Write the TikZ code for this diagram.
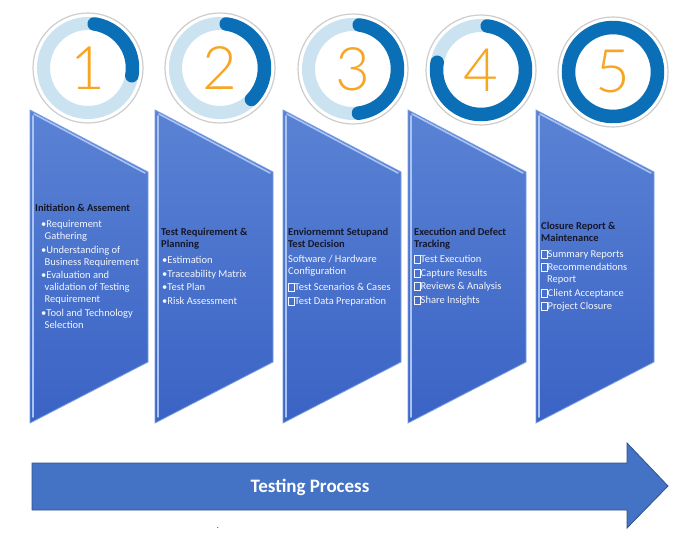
\documentclass[tikz,border=0pt]{standalone}
\usepackage{fontspec}
\setmainfont{Carlito}
\IfFontExistsTF{Lato Light}{\newfontfamily\digitfont{Lato Light}}{\newfontfamily\digitfont{Lato}}
\usetikzlibrary{positioning}
\definecolor{panelTop}{HTML}{5A82D4}
\definecolor{panelBot}{HTML}{3A63C5}
\definecolor{panelEdge}{HTML}{7A9EE4}
\definecolor{panelHi}{HTML}{A9C3F3}
\definecolor{ringLight}{HTML}{CBE3F1}
\definecolor{ringDark}{HTML}{0A6FB6}
\definecolor{rimGrey}{HTML}{CDCDCD}
\definecolor{digitOrange}{HTML}{F7A623}
\definecolor{titleDark}{HTML}{17172A}
\definecolor{itemWhite}{HTML}{F4F6FB}
\definecolor{arrowBlue}{HTML}{4472C4}
\definecolor{arrowEdge}{HTML}{2F528F}
\newcommand\phasettl[1]{\textcolor{titleDark}{\bfseries #1}}
\newcommand\nobox{\textcolor{itemWhite}{\fboxsep0pt\fboxrule0.5pt\fbox{\rule{0pt}{6.8pt}\hspace{5.5pt}}}}
\tikzset{
  panel/.style   = {top color=panelTop, bottom color=panelBot, draw=panelEdge, line width=0.8pt},
  bevel/.style   = {panelHi, line width=1.6pt, line cap=round},
  rim/.style     = {draw=rimGrey, line width=1.2pt, fill=white},
  ringbg/.style  = {ringLight, line width=13pt},
  ringfg/.style  = {ringDark, line width=13.5pt, line cap=round},
  digit/.style   = {font=\digitfont\fontsize{60}{60}\selectfont, text=digitOrange, inner sep=0pt},
  steptxt/.style = {font=\fontsize{10.5}{12}\selectfont, text=itemWhite, align=left,
                    anchor=north west, inner sep=0pt},
  flow/.style    = {fill=arrowBlue, draw=arrowEdge, line width=0.8pt},
  flowtxt/.style = {font=\bfseries\fontsize{19}{19}\selectfont, text=white},
}
\begin{document}
\begin{tikzpicture}[x=1pt, y=-1pt]
\fill[white] (0,0) rectangle (687,533);
\useasboundingbox (0,0) rectangle (687,533);
% progress rings above the phases
\foreach \cx/\cy/\num/\stop in {88/68/1/10, 220/68/2/45, 353/69/3/83, 481/70/4/190, 613/72/5/278} {
  \draw[rim] (\cx,\cy) circle (55);
  \draw[ringbg] (\cx,\cy) circle (44.5);
  \draw[ringfg] ([shift={(-82:44.5)}]\cx,\cy) arc (-82:\stop:44.5);
  \node[digit] (d\num) at (\cx,\cy) {\num};
}
% phase panels
\foreach \L in {30, 155, 283, 408, 536} {
  \draw[panel] (\L,110) -- (\L+118,172) -- (\L+118,362) -- (\L,423) -- cycle;
  \draw[bevel] (\L+3,116) -- (\L+3,417);
  \draw[bevel] (\L+4,114) -- (\L+115,173);
}
% phase texts
\node[steptxt] (init) at (35,204) {\phasettl{Initiation \& Assement}\\[4pt]
  \hspace*{6pt}\textbullet Requirement\\\hspace*{9.5pt}Gathering\\[1.5pt]
  \hspace*{6pt}\textbullet Understanding of\\\hspace*{9.5pt}Business Requirement\\[1.5pt]
  \hspace*{6pt}\textbullet Evaluation and\\\hspace*{9.5pt}validation of Testing\\\hspace*{9.5pt}Requirement\\[1.5pt]
  \hspace*{6pt}\textbullet Tool and Technology\\\hspace*{9.5pt}Selection};
\node[steptxt] (plan) at (161,228) {\phasettl{Test Requirement \&}\\\phasettl{Planning}\\[4pt]
  \hspace*{1pt}\textbullet Estimation\\[1.5pt]
  \hspace*{1pt}\textbullet Traceability Matrix\\[1.5pt]
  \hspace*{1pt}\textbullet Test Plan\\[1.5pt]
  \hspace*{1pt}\textbullet Risk Assessment};
\node[steptxt] (setup) at (288,228) {\phasettl{Enviornemnt Setupand}\\\phasettl{Test Decision}\\[3pt]
  Software / Hardware\\Configuration\\[4pt]
  \nobox Test Scenarios \& Cases\\[2pt]
  \nobox Test Data Preparation};
\node[steptxt] (exec) at (414,228) {\phasettl{Execution and Defect}\\\phasettl{Tracking}\\[3pt]
  \nobox Test Execution\\[2pt]
  \nobox Capture Results\\[1pt]
  \nobox Reviews \& Analysis\\[2pt]
  \nobox Share Insights};
\node[steptxt] (closure) at (541,222) {\phasettl{Closure Report \&}\\\phasettl{Maintenance}\\[4pt]
  \nobox Summary Reports\\[1pt]
  \nobox Recommendations\\\hspace*{6pt}Report\\[2pt]
  \nobox Client Acceptance\\[1pt]
  \nobox Project Closure};
% process arrow
\draw[flow] (32,463) -- (627,463) -- (627,443) -- (668,486) -- (627,528) -- (627,510) -- (32,510) -- cycle;
\node[flowtxt] (proc) at (310,487) {Testing Process};
\node[font=\fontsize{8}{8}\selectfont, inner sep=0pt] (dot) at (218,528) {.};
\end{tikzpicture}
\end{document}
